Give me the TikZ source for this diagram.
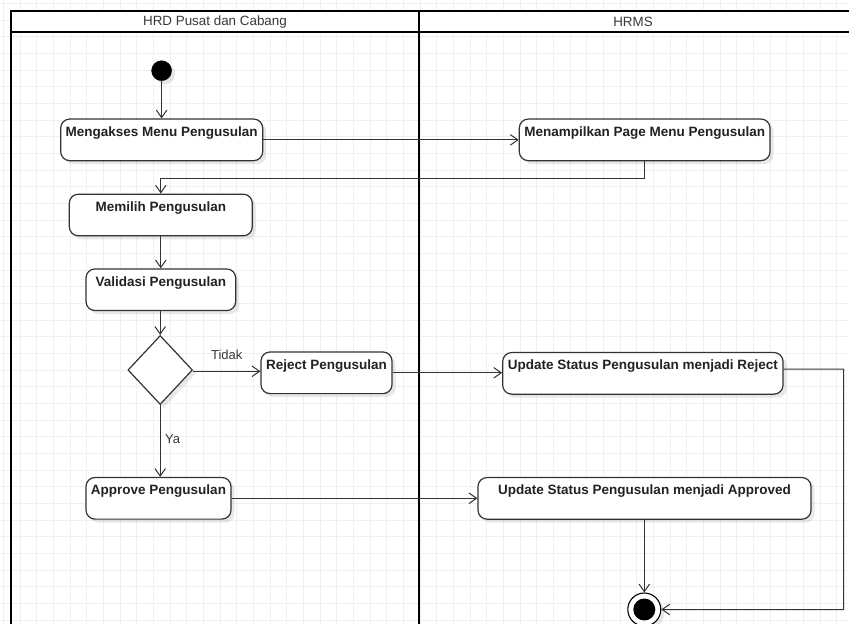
\documentclass[tikz,border=0pt]{standalone}
\usepackage{fontspec}
\setmainfont{Liberation Sans}
\usetikzlibrary{arrows.meta,shapes.geometric,shadows}
\definecolor{ink}{HTML}{222222}
\definecolor{edge}{HTML}{333333}
\definecolor{gridc}{HTML}{F0F0F0}
\tikzset{
  x=1pt,y=-1pt,
  shade/.style={drop shadow={shadow xshift=3.5pt,shadow yshift=-3.5pt,fill=black,opacity=0.09}},
  actbox/.style={draw=edge,line width=1.2pt,rounded corners=9pt,fill=white,shade,
    text=ink,font=\fontsize{13.5}{16}\selectfont\bfseries,inner xsep=1pt,inner ysep=7.3pt,
    text height=10pt,text depth=17pt},
  decide/.style={draw=edge,line width=1.2pt,diamond,fill=white,shade,inner sep=0pt},
  startdot/.style={circle,fill=black,draw=black,inner sep=0pt,minimum size=20pt,shade},
  endring/.style={circle,fill=white,draw=black,line width=1.1pt,inner sep=0pt,minimum size=33pt,shade},
  enddot/.style={circle,fill=black,inner sep=0pt,minimum size=22pt},
  arr/.style={draw=edge,line width=1pt,-{Straight Barb[length=7.5pt,width=10.5pt,line width=1pt]}},
  lane/.style={draw=black,line width=2.2pt},
  lanetitle/.style={text=ink!90,font=\fontsize{13.4}{16}\selectfont},
  guard/.style={text=ink!90,font=\fontsize{13}{16}\selectfont}
}
\begin{document}
\begin{tikzpicture}
\useasboundingbox (0,0) rectangle (849,624);
% grid
\foreach \k in {0,...,51} {
  \draw[gridc,line width=0.8pt] ({3.333+16.667*\k},0) -- ({3.333+16.667*\k},624);
}
\foreach \k in {0,...,37} {
  \draw[gridc,line width=0.8pt] (0,{3.333+16.667*\k}) -- (849,{3.333+16.667*\k});
}
% swimlanes
\fill[white] (11,11) rectangle (860,32.3);
\draw[lane] (11,640) -- (11,11) -- (860,11);
\draw[lane] (11,32.3) -- (860,32.3);
\draw[lane] (419,11) -- (419,640);
\node[lanetitle] (t1) at (215,21.6) {HRD Pusat dan Cabang};
\node[lanetitle] (t2) at (633,21.6) {HRMS};

% nodes
\node[startdot] (start) at (161.6,70.7) {};
\node[actbox,minimum width=202pt] (a1) at (161.7,139.85) {Mengakses Menu Pengusulan};
\node[actbox,minimum width=250.7pt] (a2) at (644.65,139.85) {Menampilkan Page Menu Pengusulan};
\node[actbox,minimum width=183pt] (a3) at (160.8,215) {Memilih Pengusulan};
\node[actbox,minimum width=149.7pt] (a4) at (160.85,289.75) {Validasi Pengusulan};
\node[decide,minimum width=64.6pt,minimum height=69pt] (d) at (160.2,370) {};
\node[actbox,minimum width=131pt] (r) at (326.5,372.8) {Reject Pengusulan};
\node[actbox,minimum width=280.3pt] (u1) at (642.85,373.35) {Update Status Pengusulan menjadi Reject};
\node[actbox,minimum width=145pt] (ap) at (158.5,498.3) {Approve Pengusulan};
\node[actbox,minimum width=333pt] (u2) at (644.5,498.35) {Update Status Pengusulan menjadi Approved};
\node[endring] (fin) at (644.3,609.5) {};
\node[enddot] (findot) at (fin) {};
\coordinate (c1) at (843.5,369);

% labels
\node[guard] (lt) at (226.7,355) {Tidak};
\node[guard] (ly) at (172.7,439) {Ya};

% edges
\draw[arr] (start.south) -- (start.south |- a1.north);
\draw[arr] (a1.east) -- (a1.east -| a2.west);
\draw[arr] (a2.south) -- ++(0,17) -| (a3.north);
\draw[arr] (a3.south) -- (a3.south |- a4.north);
\draw[arr] (a4.south -| d.north) -- (d.north);
\draw[arr] (d.east) ++(0,1.3) -- ([yshift=-1.3pt]d.east -| r.west);
\draw[arr] (r.east) -- (r.east -| u1.west);
\draw[arr] (d.south) -- (d.south |- ap.north);
\draw[arr] (ap.east) -- (ap.east -| u2.west);
\draw[arr] ([yshift=4.3pt]u1.east) -- (c1) |- (fin.east);
\draw[arr] (u2.south -| fin.north) -- (fin.north);
\end{tikzpicture}
\end{document}
